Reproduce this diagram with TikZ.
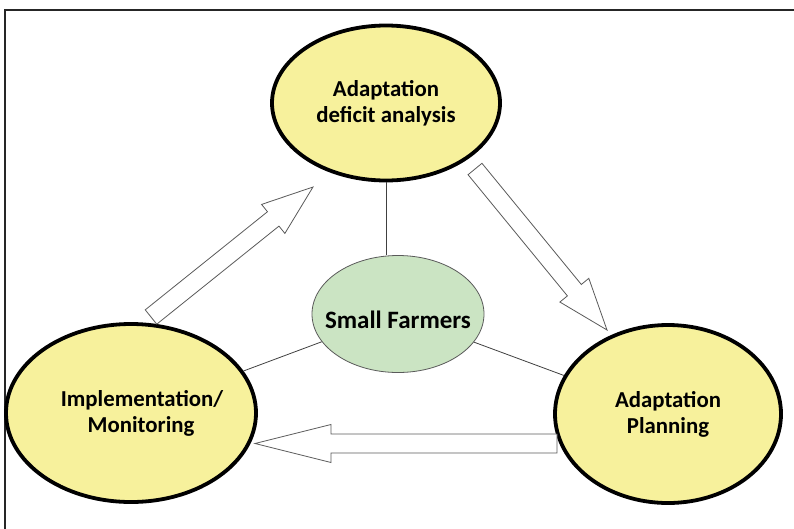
\documentclass[tikz,border=0pt]{standalone}
\usepackage{fontspec}
\setmainfont{Carlito}
\usetikzlibrary{shapes.geometric,calc}
\definecolor{phase}{HTML}{F7F19C}
\definecolor{core}{HTML}{CBE4C3}
\definecolor{arrowline}{HTML}{5A5A5A}
\tikzset{
  phasebox/.style={ellipse, draw=black, line width=3.8pt, fill=phase, inner sep=0pt,
    align=center, font=\fontsize{22.8}{26}\selectfont\bfseries},
  corebox/.style={ellipse, draw=arrowline, line width=0.8pt, fill=core, inner sep=0pt,
    align=center, font=\fontsize{25}{28}\selectfont\bfseries},
  link/.style={draw=black!75, line width=0.8pt},
  blockarrow/.style={draw=arrowline, line width=0.8pt, fill=white, line join=miter},
}
% #1 tail coordinate, #2 tip coordinate, #3 shaft half width, #4 head half width, #5 head length, #6 name
\newcommand\myblockarrow[6]{%
  \coordinate (#6h) at ($(#2)!#5!(#1)$);
  \path[blockarrow] ($(#1)!#3!90:(#2)$) -- ($(#6h)!#3!-90:(#1)$) -- ($(#6h)!#4!-90:(#1)$)
    -- (#2) -- ($(#6h)!#4!90:(#1)$) -- ($(#6h)!#3!90:(#1)$) -- ($(#1)!#3!-90:(#2)$) -- cycle;
}
\begin{document}
\begin{tikzpicture}[x=1pt,y=-1pt]
\useasboundingbox (0,0) rectangle (794,528);
\draw[draw=black!85, line width=1.6pt] (5,540) -- (5,10) -- (800,10);

\node[phasebox, minimum width=228pt, minimum height=155pt] (deficit) at (386,103) {Adaptation\\deficit analysis};
\node[phasebox, minimum width=250pt, minimum height=178pt] (impl) at (131,413) {\makebox[120pt]{\hspace{22pt}Implementation/}\\\makebox[120pt]{\hspace{20pt}Monitoring}};
\node[phasebox, minimum width=226pt, minimum height=178pt] (plan) at (668,414) {Adaptation\\Planning};
\node[corebox, minimum width=172pt, minimum height=117pt] (farmers) at (398,314) {\rule{0pt}{30pt}\makebox[110pt]{Small Farmers}};

\draw[link] (deficit.south) -- (farmers.north -| deficit.south);
\draw[link] (farmers.200) -- (impl);
\draw[link] (farmers) -- (plan);

% block arrows
\coordinate (a1t) at (151,317);
\coordinate (a1p) at (313,187);
\myblockarrow{a1t}{a1p}{9.2pt}{18.6pt}{51pt}{a1}
\coordinate (a2t) at (475,169);
\coordinate (a2p) at (607,330);
\myblockarrow{a2t}{a2p}{9pt}{18.7pt}{51.5pt}{a2}
\coordinate (a3t) at (557,443.5);
\coordinate (a3p) at (255,443.5);
\myblockarrow{a3t}{a3p}{9.5pt}{19pt}{76pt}{a3}
\end{tikzpicture}
\end{document}
